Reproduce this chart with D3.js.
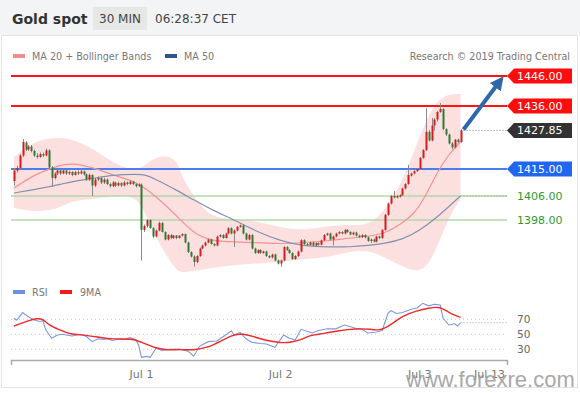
<!DOCTYPE html>
<html>
<head>
<meta charset="utf-8">
<script src="https://cdn.jsdelivr.net/npm/d3@7"></script>
<style>
  body { margin: 0; background: #fff; }
  svg { display: block; font-family: 'DejaVu Sans', sans-serif; }
</style>
</head>
<body>
<script>
// candles, 30 min, [open, high, low, close]
const ohlc = [
  [1411, 1415.3, 1409.5, 1414.5], [1414.5, 1416, 1413.8, 1415.3], [1415.3, 1420, 1415, 1419.5],
  [1419.5, 1425, 1419, 1424], [1423.8, 1424.3, 1421, 1421.5], [1421.5, 1423, 1421, 1422.5],
  [1422.5, 1423, 1420.5, 1421], [1421, 1421.5, 1419, 1419.5], [1419.5, 1420.3, 1418.5, 1419],
  [1419, 1420.5, 1418.7, 1420], [1420, 1420.5, 1419, 1419.5], [1419.5, 1421.8, 1419.2, 1421.2],
  [1421.2, 1421.6, 1415, 1415.5], [1415.5, 1416, 1409, 1412], [1412, 1414, 1411.5, 1413.5],
  [1413.5, 1415, 1413, 1414.5], [1414.5, 1415, 1413, 1413.5], [1413.5, 1415, 1413.2, 1414.5],
  [1414.5, 1414.8, 1413, 1413.5], [1413.5, 1414.5, 1413, 1414], [1414, 1414.3, 1412.6, 1413],
  [1413, 1414.4, 1412.8, 1414], [1414, 1414.5, 1413, 1413.5], [1413.5, 1414.8, 1413.2, 1414.2],
  [1414.2, 1414.5, 1412.8, 1413.2], [1413.2, 1413.5, 1411, 1411.5], [1411.5, 1413.5, 1411, 1413],
  [1413, 1413.3, 1406, 1409.5], [1409.5, 1412, 1409, 1411.5], [1411.5, 1412.5, 1411, 1412],
  [1412, 1412.3, 1410, 1410.5], [1410.5, 1412, 1410, 1411.5], [1411.5, 1411.8, 1409.6, 1410],
  [1410, 1410.4, 1408.8, 1409.3], [1409.3, 1411, 1409, 1410.5], [1410.5, 1410.8, 1409, 1409.5],
  [1409.5, 1410.8, 1409.2, 1410.3], [1410.3, 1410.6, 1409, 1409.5], [1409.5, 1411, 1409.2, 1410.5],
  [1410.5, 1410.8, 1409.6, 1410], [1410, 1411.2, 1409.7, 1410.8], [1410.8, 1411, 1409.6, 1410],
  [1410, 1410.3, 1408.8, 1409.3], [1409.3, 1410.2, 1409, 1409.8], [1409.8, 1410.2, 1384.5, 1394.7],
  [1394.7, 1396.5, 1394, 1396], [1396, 1398.3, 1395.5, 1398], [1398, 1398.3, 1395, 1395.3],
  [1395.3, 1395.6, 1392, 1392.5], [1392.5, 1394.8, 1392.2, 1394.5], [1394.5, 1397.5, 1394.2, 1397],
  [1397, 1397.3, 1393.8, 1394], [1394, 1394.3, 1391.2, 1391.5], [1391.5, 1393.3, 1391.2, 1393],
  [1393, 1393.3, 1391.6, 1392], [1392, 1393, 1391.7, 1392.8], [1392.8, 1393, 1391.6, 1392],
  [1392, 1393, 1391.8, 1392.8], [1392.8, 1393.6, 1392.5, 1393.3], [1393.3, 1393.5, 1390.2, 1390.5],
  [1390.5, 1390.8, 1387, 1387.3], [1387.3, 1387.6, 1385.5, 1385.8], [1385.8, 1386.2, 1382.4, 1384],
  [1384, 1386.3, 1383.6, 1386], [1386, 1388.8, 1385.7, 1388.5], [1388.5, 1389.8, 1388.2, 1389.5],
  [1389.5, 1390.8, 1389.2, 1390.5], [1390.5, 1391.8, 1390.2, 1391.5], [1391.5, 1391.8, 1389.8, 1390],
  [1390, 1390.3, 1389.2, 1389.5], [1389.5, 1392.8, 1389.2, 1392.5], [1392.5, 1393.3, 1392.2, 1393],
  [1393, 1393.3, 1391.7, 1392], [1392, 1393.8, 1391.8, 1393.5], [1393.5, 1395.6, 1393.2, 1395.3],
  [1395.3, 1395.6, 1393.2, 1393.5], [1393.5, 1394.8, 1389, 1394.5], [1394.5, 1396, 1394.2, 1395.7],
  [1395.7, 1396.5, 1395.4, 1396.2], [1396.2, 1396.5, 1393.2, 1393.5], [1393.5, 1393.8, 1391.2, 1391.5],
  [1391.5, 1393.3, 1391.2, 1393], [1393, 1393.3, 1388.2, 1388.5], [1388.5, 1388.8, 1386.7, 1387],
  [1387, 1388.3, 1386.7, 1388], [1388, 1388.3, 1386.7, 1387], [1387, 1387.8, 1386.7, 1387.5],
  [1387.5, 1387.8, 1385.7, 1386], [1386, 1386.3, 1385.2, 1385.5], [1385.5, 1386.8, 1385.2, 1386.5],
  [1386.5, 1386.8, 1384.2, 1384.5], [1384.5, 1384.8, 1383.2, 1383.5], [1383.5, 1384.8, 1382.4, 1384.5],
  [1384.5, 1389.3, 1384.2, 1389], [1389, 1389.3, 1387.7, 1388], [1388, 1388.3, 1386.7, 1387],
  [1387, 1387.3, 1384.7, 1385], [1385, 1386.3, 1384.7, 1386], [1386, 1387.8, 1385.7, 1387.5],
  [1387.5, 1391.6, 1387.2, 1391.3], [1391.3, 1391.6, 1389.7, 1390], [1390, 1390.3, 1389.3, 1389.7],
  [1389.7, 1390.8, 1389.4, 1390.5], [1390.5, 1390.8, 1389.2, 1389.5], [1389.5, 1390.6, 1389.2, 1390.3],
  [1390.3, 1390.6, 1389.5, 1389.8], [1389.8, 1391.5, 1389.5, 1391.2], [1391.2, 1393.3, 1391, 1393],
  [1393, 1393.8, 1392.7, 1393.5], [1393.5, 1393.8, 1391.2, 1391.5], [1391.5, 1392.8, 1389.5, 1392.5],
  [1392.5, 1393.8, 1392.2, 1393.5], [1393.5, 1394.3, 1393.2, 1394], [1394, 1394.3, 1393.2, 1393.5],
  [1393.5, 1395, 1393.2, 1394.7], [1394.7, 1395, 1393.7, 1394], [1394, 1394.3, 1392.9, 1393.2],
  [1393.2, 1394.1, 1392.9, 1393.8], [1393.8, 1394.1, 1392.5, 1392.8], [1392.8, 1393.1, 1392, 1392.3],
  [1392.3, 1393.3, 1392, 1393], [1393, 1393.3, 1391.9, 1392.2], [1392.2, 1392.5, 1390.7, 1391],
  [1391, 1391.8, 1390.3, 1391.5], [1391.5, 1391.8, 1390.5, 1390.8], [1390.8, 1392.8, 1390.5, 1392.5],
  [1392.5, 1392.8, 1391.7, 1392], [1392, 1395, 1391.7, 1394.7], [1394.7, 1400, 1394.4, 1399.7],
  [1399.7, 1403.8, 1399.4, 1403.5], [1403.5, 1406.3, 1403.2, 1406], [1406, 1407.7, 1405.2, 1405.5],
  [1405.5, 1406.3, 1405.2, 1406], [1405.8, 1406.6, 1405.5, 1406.3], [1406.3, 1408.8, 1406, 1408.5],
  [1408.5, 1410.3, 1408.2, 1410], [1410, 1416.3, 1409.7, 1413], [1412.8, 1413.8, 1412.5, 1413.5],
  [1413.5, 1414.6, 1413.2, 1414.3], [1414.3, 1415.3, 1414, 1415], [1415, 1419, 1414.7, 1418.7],
  [1418.7, 1421.6, 1418.4, 1421.3], [1421.3, 1435.2, 1421, 1427.4], [1427.4, 1428, 1424.2, 1424.5],
  [1424.5, 1432, 1424.2, 1429.5], [1429.5, 1432, 1427.8, 1431.5], [1431.5, 1434.3, 1430.8, 1434],
  [1434, 1437, 1433.7, 1435], [1435, 1435.3, 1428, 1428.3], [1428.3, 1428.6, 1426, 1426.5],
  [1426.5, 1426.8, 1423.2, 1423.5], [1423.5, 1424, 1421.6, 1422.2], [1422.2, 1425, 1421.9, 1424.8],
  [1424.8, 1425.1, 1423.7, 1424], [1424, 1428.3, 1423.7, 1427.85]
];
const lastPrice = 1427.85;

// indicator readings, [candle index, value]
const ma20 = [[0, 1408.7], [8, 1413.7], [16, 1416.3], [20, 1417], [28, 1415.3], [34, 1413],
  [42, 1410.8], [46, 1408], [50, 1405], [56, 1399.5], [62, 1393.5], [68, 1391], [76, 1390.7],
  [84, 1390.5], [92, 1390], [100, 1390.5], [108, 1391], [116, 1392], [122, 1392.5], [128, 1393.5],
  [134, 1397], [138, 1400], [142, 1406], [146, 1414], [150, 1420], [154, 1424]];
const bbUpper = [[0, 1419], [8, 1425], [16, 1425.5], [20, 1425], [28, 1421.5], [34, 1417],
  [42, 1414], [46, 1417], [50, 1419.5], [56, 1419], [58, 1412], [62, 1406], [68, 1398.5],
  [76, 1398.5], [84, 1397.5], [92, 1395.5], [100, 1394.5], [108, 1396], [116, 1396.5],
  [122, 1396], [128, 1401], [134, 1411], [138, 1421], [142, 1431], [146, 1438], [150, 1440], [154, 1440]];
const bbLower = [[0, 1402], [8, 1400.5], [16, 1402], [20, 1404.5], [28, 1405], [34, 1406],
  [42, 1406.5], [46, 1399], [50, 1390], [56, 1381], [58, 1380.5], [62, 1381], [68, 1382], [76, 1383],
  [84, 1383.5], [92, 1384], [100, 1385], [108, 1385.5], [116, 1387.5], [122, 1388],
  [128, 1385.5], [134, 1382.5], [138, 1381], [142, 1381.5], [146, 1389], [150, 1399], [154, 1405]];
const ma50 = [[0, 1407], [12, 1409], [20, 1410.8], [28, 1412], [34, 1413], [42, 1413.3],
  [46, 1413], [50, 1411], [56, 1408], [62, 1404.7], [68, 1401.5], [76, 1398], [84, 1394],
  [92, 1391], [100, 1389.3], [108, 1389], [116, 1389], [122, 1389.5], [128, 1390.2],
  [134, 1391.5], [140, 1394.5], [146, 1399], [150, 1402.5], [154, 1406]];

const rsi = [[0, 71], [1, 69], [3, 79], [5, 73.5], [7, 69], [9, 67], [10, 68], [11, 56], [13, 44.6],
  [15, 49], [17, 50], [18, 49], [20, 47.7], [23, 50], [25, 47], [27, 40.2], [29, 44], [31, 43],
  [32, 44], [34, 41.8], [37, 44], [38, 43], [40, 45.5], [42, 43], [43, 35.7], [44, 19.3],
  [46, 20.5], [47, 19.3], [49, 31.3], [51, 28.6], [54, 30], [57, 30.3], [60, 27.6], [62, 20.8],
  [64, 34], [67, 40.2], [70, 41], [71, 43.8], [75, 54.4], [76, 49], [78, 52.6], [80, 44],
  [82, 39.3], [85, 37.7], [87, 37], [90, 32.7], [93, 49.1], [95, 44.6], [97, 42.3], [99, 56.6],
  [101, 54], [103, 51.8], [105, 55], [108, 57.3], [111, 57.3], [114, 62.4], [117, 59],
  [118, 57.7], [120, 56.6], [122, 51.8], [125, 53], [127, 55], [129, 78], [130, 81.5],
  [132, 77.8], [134, 79], [137, 83.4], [139, 85], [141, 91.3], [143, 88], [145, 90], [147, 89],
  [148, 71.3], [150, 62.4], [152, 64], [153, 61], [154, 65.5]];
const rsiMa = [[0, 61], [5, 68.2], [8, 71.3], [10, 70.5], [12, 62.4], [16, 55.7], [19, 50],
  [25, 49], [30, 45.5], [34, 43.5], [41, 44], [43, 41], [48, 32.5], [53, 28.6], [57, 30],
  [62, 28.6], [67, 32.5], [71, 40.2], [76, 50], [79, 50.6], [82, 47.7], [87, 41.5], [92, 38.6],
  [95, 38.9], [99, 42.3], [102, 49], [107, 50.8], [112, 55], [118, 57.7], [123, 57],
  [126, 54.5], [130, 62.4], [134, 75], [139, 81.5], [143, 85], [147, 87.3], [150, 78.5], [154, 72.6]];

const levels = [1446, 1436, 1415, 1406, 1398];
const rsiLevels = [70, 50, 30];
const dayTicks = [[44, 'Jul 1'], [92, 'Jul 2'], [140, 'Jul 3'], [164, 'Jul 13']];

const W = 580, H = 393;
const labelX = 507;

const svg = d3.select('body').append('svg')
  .attr('width', W)
  .attr('height', H);

const x = d3.scaleLinear().domain([0, 154]).range([13.9, 460.5]);
const y = d3.scaleLinear().domain([1446, 1382]).range([76, 268]);
const yr = d3.scaleLinear().domain([30, 70]).range([349.3, 319.3]);

// header + panel
svg.append('rect').attr('width', W).attr('height', 35).attr('fill', '#f3f4f6');
svg.append('rect').attr('x', 1.5).attr('y', 35.5).attr('width', 576).attr('height', 352)
  .attr('fill', '#fff').attr('stroke', '#e3e3e3');

svg.append('text').attr('x', 12).attr('y', 24)
  .attr('font-size', 14).attr('font-weight', 'bold').attr('fill', '#333')
  .text('Gold spot');
svg.append('rect').attr('x', 93).attr('y', 7).attr('width', 54).attr('height', 23)
  .attr('fill', '#e6e8e6');
svg.append('text').attr('x', 120).attr('y', 23).attr('text-anchor', 'middle')
  .attr('font-size', 12).attr('fill', '#444').text('30 MIN');
svg.append('text').attr('x', 155).attr('y', 23)
  .attr('font-size', 12).attr('fill', '#444').text('06:28:37 CET');

// legend
const legend = svg.append('g').attr('font-size', 9.6).attr('fill', '#777');
legend.append('rect').attr('x', 13).attr('y', 54).attr('width', 12).attr('height', 4).attr('fill', '#f58c8c');
legend.append('text').attr('x', 32).attr('y', 60).text('MA 20 + Bollinger Bands');
legend.append('rect').attr('x', 165).attr('y', 54).attr('width', 12).attr('height', 4).attr('fill', '#2f5590');
legend.append('text').attr('x', 184).attr('y', 60).text('MA 50');
legend.append('text').attr('x', 570).attr('y', 60).attr('text-anchor', 'end').text('Research © 2019 Trading Central');

// bollinger band
const band = bbUpper.map((d, i) => [d[0], d[1], bbLower[i][1]]);
svg.append('path')
  .datum(band)
  .attr('fill', '#fbd6d6')
  .attr('opacity', 0.75)
  .attr('d', d3.area().curve(d3.curveBasis)
    .x((d) => x(d[0])).y0((d) => y(d[1])).y1((d) => y(d[2])));

// level lines
const levelColor = ['#ff1414', '#ff1414', '#4a7df0', '#b2d9aa', '#b2d9aa'];
const levelWidth = [2, 2, 2, 1.5, 1.5];
svg.selectAll('.lvl')
  .data(levels)
  .enter()
  .append('line')
  .attr('x1', 11).attr('x2', labelX)
  .attr('y1', (d) => y(d)).attr('y2', (d) => y(d))
  .attr('stroke', (d, i) => levelColor[i])
  .attr('stroke-width', (d, i) => levelWidth[i]);

// moving averages
const line = d3.line().curve(d3.curveBasis).x((d) => x(d[0])).y((d) => y(d[1]));
svg.append('path').datum(ma20).attr('d', line).attr('fill', 'none')
  .attr('stroke', '#f49292').attr('stroke-width', 1.2);
svg.append('path').datum(ma50).attr('d', line).attr('fill', 'none')
  .attr('stroke', '#8392b0').attr('stroke-width', 1.2);
svg.append('line')
  .attr('x1', x(154)).attr('x2', labelX)
  .attr('y1', y(ma50[ma50.length - 1][1])).attr('y2', y(ma50[ma50.length - 1][1]))
  .attr('stroke', '#8a9a8a').attr('stroke-dasharray', '1,2');

// candles
const candle = svg.selectAll('.candle')
  .data(ohlc)
  .enter()
  .append('g');

candle.append('line')
  .attr('x1', (d, i) => Math.round(x(i)) + 0.5)
  .attr('x2', (d, i) => Math.round(x(i)) + 0.5)
  .attr('y1', (d) => y(d[1]))
  .attr('y2', (d) => y(d[2]))
  .attr('stroke', '#8a8a8a');

candle.append('rect')
  .attr('x', (d, i) => Math.round(x(i)) - 0.5)
  .attr('width', 2)
  .attr('y', (d) => y(Math.max(d[0], d[3])))
  .attr('height', (d) => Math.max(1, Math.abs(y(d[0]) - y(d[3]))))
  .attr('fill', (d) => d[3] >= d[0] ? '#d41c1c' : '#2f7a32');

// last price dotted + arrow
svg.append('line')
  .attr('x1', x(154) + 3).attr('x2', labelX)
  .attr('y1', y(lastPrice)).attr('y2', y(lastPrice))
  .attr('stroke', '#888').attr('stroke-dasharray', '1,2');

const defs = svg.append('defs');
defs.append('marker')
  .attr('id', 'head')
  .attr('viewBox', '0 0 10 10')
  .attr('refX', 2).attr('refY', 5)
  .attr('markerWidth', 3.4).attr('markerHeight', 3.4)
  .attr('orient', 'auto')
  .append('path').attr('d', 'M0,0L10,5L0,10z').attr('fill', '#2d68ad');

svg.append('line')
  .attr('x1', x(154) + 3).attr('y1', y(lastPrice) - 1)
  .attr('x2', labelX - 10).attr('y2', y(1446) + 9)
  .attr('stroke', '#2d68ad').attr('stroke-width', 4)
  .attr('marker-end', 'url(#head)');

// price labels
const flagLevels = [1446, 1436, lastPrice, 1415];
const flagColor = ['#ff0d0d', '#ff0d0d', '#333', '#2166f0'];
const flag = svg.selectAll('.flag')
  .data(flagLevels)
  .enter()
  .append('g')
  .attr('transform', (d) => 'translate(' + labelX + ',' + y(d) + ')');
flag.append('path')
  .attr('d', 'M0,0L7,-7.5L65,-7.5L65,7.5L7,7.5Z')
  .attr('fill', (d, i) => flagColor[i]);
flag.append('text')
  .attr('x', 10).attr('y', 4)
  .attr('font-size', 11).attr('fill', '#fff')
  .text((d) => d.toFixed(2));

svg.selectAll('.glbl')
  .data(levels.slice(3))
  .enter()
  .append('text')
  .attr('x', labelX + 10).attr('y', (d) => y(d) + 4)
  .attr('font-size', 11).attr('fill', '#2e9a2e')
  .text((d) => d.toFixed(2));

// RSI panel
const rl = svg.append('g').attr('font-size', 9.6).attr('fill', '#777');
rl.append('rect').attr('x', 13).attr('y', 290).attr('width', 12).attr('height', 4).attr('fill', '#6f8fe0');
rl.append('text').attr('x', 32).attr('y', 296).text('RSI');
rl.append('rect').attr('x', 60).attr('y', 290).attr('width', 12).attr('height', 4).attr('fill', '#f01c1c');
rl.append('text').attr('x', 80).attr('y', 296).text('9MA');

svg.selectAll('.rg')
  .data(rsiLevels)
  .enter()
  .append('line')
  .attr('x1', 11).attr('x2', labelX)
  .attr('y1', (d) => yr(d)).attr('y2', (d) => yr(d))
  .attr('stroke', '#d8c6c6').attr('stroke-dasharray', '1,3');

svg.selectAll('.rgl')
  .data(rsiLevels)
  .enter()
  .append('text')
  .attr('x', labelX + 10).attr('y', (d) => yr(d) + 4)
  .attr('font-size', 10.5).attr('fill', '#666')
  .text((d) => d);

const rline = d3.line().x((d) => x(d[0])).y((d) => yr(d[1]));
svg.append('path').datum(rsi).attr('d', rline).attr('fill', 'none')
  .attr('stroke', '#7c98e2').attr('stroke-width', 1.1);
svg.append('path').datum(rsiMa).attr('d', rline.curve(d3.curveBasis)).attr('fill', 'none')
  .attr('stroke', '#f02828').attr('stroke-width', 1.4);
svg.append('line')
  .attr('x1', x(154)).attr('x2', labelX)
  .attr('y1', yr(rsi[rsi.length - 1][1])).attr('y2', yr(rsi[rsi.length - 1][1]))
  .attr('stroke', '#9aaad8').attr('stroke-dasharray', '1,2');

// time axis
svg.append('path')
  .attr('d', 'M11.5,365V360.5H' + (labelX + 0.5) + 'V365')
  .attr('fill', 'none').attr('stroke', '#aaa').attr('stroke-width', 1.5);
svg.selectAll('.tk')
  .data(dayTicks)
  .enter()
  .append('text')
  .attr('x', (d) => x(d[0])).attr('y', 378)
  .attr('text-anchor', 'middle')
  .attr('font-size', 11).attr('fill', '#777')
  .text((d) => d[1]);

// watermark
svg.append('text')
  .attr('x', 406).attr('y', 387)
  .attr('font-family', "'Liberation Sans', sans-serif")
  .attr('font-size', 22).attr('fill', '#999').attr('opacity', 0.85)
  .text('www.forexre.com');
</script>
</body>
</html>
